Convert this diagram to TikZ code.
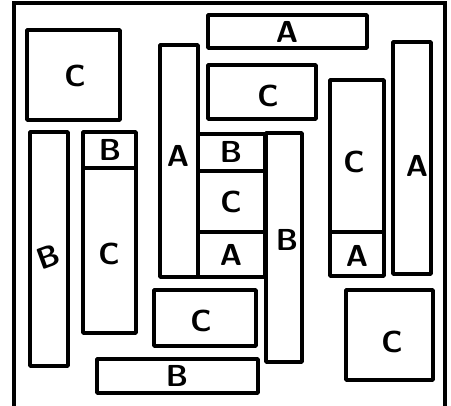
\documentclass[tikz,border=0pt]{standalone}
\usepackage{tikz}

\tikzset{
  box/.style={line width=2pt, line join=round},
  frame/.style={line width=2.6pt},
  lbl/.style={font=\LARGE\sffamily\bfseries}
}

\begin{document}
\begin{tikzpicture}[x=0.02cm,y=-0.02cm]
\useasboundingbox (0,0) rectangle (451,406);
\draw[frame] (14,406) -- (14,3) -- (445,3) -- (445,406);
%
\draw[box] (27,30) rectangle (120,120);
\draw[box] (30,132) rectangle (68,366);
\draw[box] (83,132) rectangle (136,168);
\draw[box] (83,168) rectangle (136,333);
\draw[box] (160,45) rectangle (198,277);
\draw[box] (208,15) rectangle (367,48);
\draw[box] (208,65) rectangle (316,119);
\draw[box] (198,134) rectangle (265,171);
\draw[box] (198,171) rectangle (265,232);
\draw[box] (198,232) rectangle (265,277);
\draw[box] (266,133) rectangle (302,362);
\draw[box] (330,80) rectangle (384,232);
\draw[box] (330,232) rectangle (384,276);
\draw[box] (393,42) rectangle (431,274);
\draw[box] (346,290) rectangle (433,380);
\draw[box] (154,290) rectangle (256,346);
\draw[box] (97,359) rectangle (258,393); % bottom
%
\node[lbl] (c1) at (75,76) {C};
\node[lbl,rotate=20] (b1) at (48,257) {B};
\node[lbl] (b2) at (110,150) {B};
\node[lbl] (c2) at (109,254) {C};
\node[lbl] (a1) at (178,156) {A};
\node[lbl] (a2) at (287,32) {A};
\node[lbl] (c3) at (268,96) {C};
\node[lbl] (b3) at (231,152) {B};
\node[lbl] (c4) at (231,202) {C};
\node[lbl] (a3) at (231,255) {A};
\node[lbl] (b4) at (287,240) {B};
\node[lbl] (c5) at (354,162) {C};
\node[lbl] (a4) at (357,256) {A};
\node[lbl] (a5) at (417,166) {A};
\node[lbl] (c6) at (392,342) {C};
\node[lbl] (c7) at (201,321) {C};
\node[lbl] (b5) at (177,376) {B};
\end{tikzpicture}
\end{document}
